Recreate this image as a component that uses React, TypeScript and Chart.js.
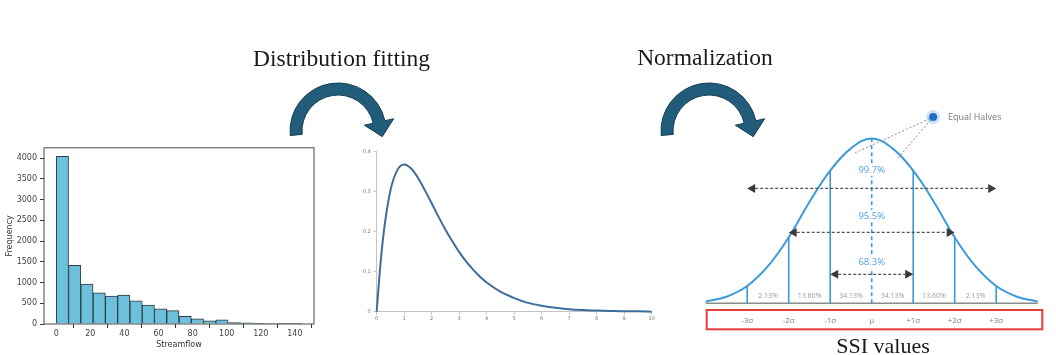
import React, { useEffect, useRef } from 'react';
import { Chart, registerables } from 'chart.js';

Chart.register(...registerables);

// ---------- Histogram (streamflow) ----------
const histBinCenters = [3.6, 10.8, 18, 25.2, 32.4, 39.6, 46.8, 54, 61.2, 68.4, 75.6, 82.8, 90, 97.2, 104.4, 111.6, 118.8, 126, 133.2, 140.4];
const histCounts = [4045, 1418, 962, 753, 673, 697, 561, 457, 365, 322, 188, 124, 76, 98, 34, 26, 16, 12, 6, 16];
const histXTicks = [0, 20, 40, 60, 80, 100, 120, 140];
const histYTicks = [0, 500, 1000, 1500, 2000, 2500, 3000, 3500, 4000];

// ---------- Fitted distribution ----------
const gammaX = [0, 0.1, 0.25, 0.5, 0.75, 1, 1.25, 1.5, 1.75, 2, 2.25, 2.5, 2.75, 3, 3.25, 3.5, 3.75, 4, 4.5, 5, 5.5, 6, 6.5, 7, 7.5, 8, 8.5, 9, 9.5, 10];
const gammaY = [0, 0.09, 0.195, 0.303, 0.354, 0.368, 0.358, 0.335, 0.304, 0.271, 0.237, 0.205, 0.176, 0.149, 0.126, 0.106, 0.088, 0.073, 0.05, 0.034, 0.022, 0.015, 0.01, 0.006, 0.004, 0.003, 0.002, 0.001, 0.001, 0];
const gammaXTicks = [0, 1, 2, 3, 4, 5, 6, 7, 8, 9, 10];
const gammaYTicks = [0, 0.1, 0.2, 0.3, 0.4];

// ---------- Normal curve ----------
const normX = [-4, -3.5, -3, -2.5, -2, -1.5, -1, -0.5, 0, 0.5, 1, 1.5, 2, 2.5, 3, 3.5, 4];
const normY = [0.01, 0.04, 0.105, 0.225, 0.4, 0.615, 0.805, 0.94, 1.0, 0.94, 0.805, 0.615, 0.4, 0.225, 0.105, 0.04, 0.01];
const sigmaPositions = [-3, -2, -1, 0, 1, 2, 3];
const sigmaLabels = ['-3σ', '-2σ', '-1σ', 'μ', '+1σ', '+2σ', '+3σ'];
const bandCenters = [-2.5, -1.5, -0.5, 0.5, 1.5, 2.5];
const bandLabels = ['2.13%', '13.60%', '34.13%', '34.13%', '13.60%', '2.13%'];
const coverageLabels = ['99.7%', '95.5%', '68.3%'];
const coverageSpans = [3, 2, 1];

const TITLE_FONT = '"Liberation Serif", "DejaVu Serif", serif';

function HistogramChart() {
  const ref = useRef<HTMLCanvasElement>(null);
  useEffect(() => {
    const framePlugin = {
      id: 'frame',
      afterDraw(chart: any) {
        const { ctx, chartArea: a } = chart;
        ctx.save();
        ctx.strokeStyle = '#333';
        ctx.lineWidth = 0.9;
        ctx.strokeRect(a.left, a.top, a.right - a.left, a.bottom - a.top);
        ctx.fillStyle = '#333';
        ctx.font = '8px "DejaVu Sans"';
        ctx.textAlign = 'center';
        ctx.textBaseline = 'middle';
        ctx.fillText('Streamflow', (a.left + a.right) / 2, a.bottom + 21);
        ctx.translate(10, (a.top + a.bottom) / 2);
        ctx.rotate(-Math.PI / 2);
        ctx.fillText('Frequency', 0, 0);
        ctx.restore();
      },
    };
    const chart = new Chart(ref.current!, {
      type: 'bar',
      data: {
        datasets: [
          {
            data: histBinCenters.map((x, i) => ({ x, y: histCounts[i] })),
            backgroundColor: '#6cc0dc',
            borderColor: '#2e3b40',
            borderWidth: 1,
            barPercentage: 1,
            categoryPercentage: 1,
          } as any,
        ],
      },
      options: {
        responsive: false,
        animation: false,
        events: [],
        layout: { padding: { left: 0, right: 16, top: 7, bottom: 0 } },
        plugins: { legend: { display: false }, tooltip: { enabled: false } },
        scales: {
          x: {
            type: 'linear',
            min: -7.2,
            max: 151.2,
            offset: false,
            afterBuildTicks: (s: any) => { s.ticks = histXTicks.map((v) => ({ value: v })); },
            afterFit: (s: any) => { s.height = 31; },
            ticks: { font: { family: 'DejaVu Sans', size: 8 }, color: '#444', padding: 1.5, maxRotation: 0, autoSkip: false, callback: (v: any) => String(v) },
            grid: { display: true, drawOnChartArea: false, tickLength: 4, color: '#333' },
            border: { display: false },
          },
          y: {
            min: 0,
            max: 4252,
            afterBuildTicks: (s: any) => { s.ticks = histYTicks.map((v) => ({ value: v })); },
            afterFit: (s: any) => { s.width = 44; },
            ticks: { font: { family: 'DejaVu Sans', size: 8 }, color: '#444', padding: 3, autoSkip: false, callback: (v: any) => String(v) },
            grid: { display: true, drawOnChartArea: false, tickLength: 4, color: '#333' },
            border: { display: false },
          },
        },
      } as any,
      plugins: [framePlugin],
    });
    return () => chart.destroy();
  }, []);
  return <canvas ref={ref} width={330} height={215} style={{ position: 'absolute', left: 0, top: 140, width: 330, height: 215 }} />;
}

function GammaChart() {
  const ref = useRef<HTMLCanvasElement>(null);
  useEffect(() => {
    const chart = new Chart(ref.current!, {
      type: 'line',
      data: {
        datasets: [
          {
            data: gammaX.map((x, i) => ({ x, y: gammaY[i] })),
            borderColor: '#3d6d9c',
            borderWidth: 2,
            pointRadius: 0,
            cubicInterpolationMode: 'monotone',
            clip: false,
          } as any,
        ],
      },
      options: {
        responsive: false,
        animation: false,
        events: [],
        layout: { padding: { left: 0, right: 18.3, top: 11.7, bottom: 0 } },
        plugins: { legend: { display: false }, tooltip: { enabled: false } },
        scales: {
          x: {
            type: 'linear',
            min: 0,
            max: 10,
            afterBuildTicks: (s: any) => { s.ticks = gammaXTicks.map((v) => ({ value: v })); },
            afterFit: (s: any) => { s.height = 18.3; },
            ticks: { font: { family: 'DejaVu Sans', size: 5 }, color: '#777', padding: 1, maxRotation: 0, autoSkip: false, callback: (v: any) => String(v) },
            grid: { display: true, drawOnChartArea: false, tickLength: 3, color: '#c4c4c4' },
            border: { display: true, color: '#c4c4c4', width: 1 },
          },
          y: {
            type: 'linear',
            min: 0,
            max: 0.4,
            afterBuildTicks: (s: any) => { s.ticks = gammaYTicks.map((v) => ({ value: v })); },
            afterFit: (s: any) => { s.width = 36.7; },
            ticks: { font: { family: 'DejaVu Sans', size: 5 }, color: '#777', padding: 3, autoSkip: false, callback: (v: any) => String(v) },
            grid: { display: true, drawOnChartArea: false, tickLength: 3, color: '#c4c4c4' },
            border: { display: true, color: '#c4c4c4', width: 1 },
          },
        },
      } as any,
    });
    return () => chart.destroy();
  }, []);
  return <canvas ref={ref} width={330} height={190} style={{ position: 'absolute', left: 340, top: 140, width: 330, height: 190 }} />;
}

function NormalChart() {
  const ref = useRef<HTMLCanvasElement>(null);
  useEffect(() => {
    const blue = '#3d9ad8';
    const labelBlue = '#4ea5de';
    const curveAt = (k: number) => normY[normX.indexOf(k)];

    const drawArrow = (ctx: any, x1: number, x2: number, y: number) => {
      const hl = 8, hh = 4.5;
      ctx.save();
      ctx.strokeStyle = '#555';
      ctx.lineWidth = 1.2;
      ctx.setLineDash([3, 2]);
      ctx.beginPath();
      ctx.moveTo(x1 + hl, y);
      ctx.lineTo(x2 - hl, y);
      ctx.stroke();
      ctx.setLineDash([]);
      ctx.fillStyle = '#3a3a3a';
      ctx.beginPath();
      ctx.moveTo(x1, y);
      ctx.lineTo(x1 + hl, y - hh);
      ctx.lineTo(x1 + hl, y + hh);
      ctx.closePath();
      ctx.fill();
      ctx.beginPath();
      ctx.moveTo(x2, y);
      ctx.lineTo(x2 - hl, y - hh);
      ctx.lineTo(x2 - hl, y + hh);
      ctx.closePath();
      ctx.fill();
      ctx.restore();
    };

    const plugin = {
      id: 'normalDecor',
      beforeDatasetsDraw(chart: any) {
        const { ctx } = chart;
        const xs = chart.scales.x, ys = chart.scales.y;
        const y0 = ys.getPixelForValue(0);
        ctx.save();
        ctx.strokeStyle = '#8c8c8c';
        ctx.lineWidth = 1.6;
        ctx.beginPath();
        ctx.moveTo(xs.getPixelForValue(-4), y0);
        ctx.lineTo(xs.getPixelForValue(4), y0);
        ctx.stroke();
        ctx.strokeStyle = blue;
        ctx.lineWidth = 1.6;
        sigmaPositions.forEach((k) => {
          if (k === 0) return;
          const x = xs.getPixelForValue(k);
          ctx.beginPath();
          ctx.moveTo(x, y0);
          ctx.lineTo(x, ys.getPixelForValue(curveAt(k)));
          ctx.stroke();
        });
        ctx.setLineDash([4, 3]);
        ctx.beginPath();
        const xm = xs.getPixelForValue(0);
        ctx.moveTo(xm, y0);
        ctx.lineTo(xm, ys.getPixelForValue(curveAt(0)));
        ctx.stroke();
        ctx.restore();
      },
      afterDatasetsDraw(chart: any) {
        const { ctx, chartArea: a } = chart;
        const xs = chart.scales.x, ys = chart.scales.y;
        const xm = xs.getPixelForValue(0);
        ctx.save();
        const labelLevels = [0.81, 0.53, 0.25];
        const arrowLevels = [0.697, 0.43, 0.176];
        ctx.font = '9.5px "Open Sans"';
        ctx.textAlign = 'center';
        ctx.textBaseline = 'middle';
        coverageLabels.forEach((t, i) => {
          const y = ys.getPixelForValue(labelLevels[i]);
          const w = ctx.measureText(t).width;
          ctx.fillStyle = '#fff';
          ctx.fillRect(xm - w / 2 - 1, y - 6, w + 2, 12);
          ctx.fillStyle = labelBlue;
          ctx.fillText(t, xm, y);
        });
        coverageSpans.forEach((s, i) => {
          drawArrow(ctx, xs.getPixelForValue(-s), xs.getPixelForValue(s), ys.getPixelForValue(arrowLevels[i]));
        });
        ctx.font = '7px "Open Sans"';
        ctx.fillStyle = '#9a9a9a';
        bandLabels.forEach((t, i) => {
          ctx.fillText(t, xs.getPixelForValue(bandCenters[i]), ys.getPixelForValue(0.046));
        });
        const boxTop = a.bottom + 6.7;
        ctx.strokeStyle = '#e63b3b';
        ctx.lineWidth = 2;
        ctx.strokeRect(a.left + 1, boxTop, a.right + 4.6 - (a.left + 1), 19.3);
        ctx.font = '8px "Open Sans"';
        ctx.fillStyle = '#808080';
        sigmaLabels.forEach((t, i) => {
          ctx.fillText(t, xs.getPixelForValue(sigmaPositions[i]), boxTop + 10.7);
        });
        const dx = xs.getPixelForValue(1.48), dy = ys.getPixelForValue(1.13);
        ctx.strokeStyle = '#8a8a8a';
        ctx.lineWidth = 1;
        ctx.setLineDash([2, 2]);
        ctx.beginPath();
        ctx.moveTo(dx, dy);
        ctx.lineTo(xs.getPixelForValue(-0.4), ys.getPixelForValue(0.913));
        ctx.moveTo(dx, dy);
        ctx.lineTo(xs.getPixelForValue(0.6), ys.getPixelForValue(0.873));
        ctx.stroke();
        ctx.setLineDash([]);
        ctx.fillStyle = 'rgba(110,170,235,0.35)';
        ctx.beginPath();
        ctx.arc(dx, dy, 7, 0, Math.PI * 2);
        ctx.fill();
        ctx.fillStyle = '#1c6fc4';
        ctx.beginPath();
        ctx.arc(dx, dy, 4, 0, Math.PI * 2);
        ctx.fill();
        ctx.font = '9px "Open Sans"';
        ctx.fillStyle = '#7a7a7a';
        ctx.textAlign = 'left';
        ctx.fillText('Equal Halves', xs.getPixelForValue(1.84), dy);
        ctx.restore();
      },
    };

    const chart = new Chart(ref.current!, {
      type: 'line',
      data: {
        datasets: [
          {
            data: normX.map((x, i) => ({ x, y: normY[i] })),
            borderColor: blue,
            borderWidth: 2,
            pointRadius: 0,
            tension: 0.4,
            clip: false,
          } as any,
        ],
      },
      options: {
        responsive: false,
        animation: false,
        events: [],
        layout: { padding: { left: 15.7, right: 18.3, top: 38.5, bottom: 51.7 } },
        plugins: { legend: { display: false }, tooltip: { enabled: false } },
        scales: {
          x: { type: 'linear', min: -4, max: 4, display: false },
          y: { type: 'linear', min: 0, max: 1, display: false },
        },
      } as any,
      plugins: [plugin],
    });
    return () => chart.destroy();
  }, []);
  return <canvas ref={ref} width={366} height={255} style={{ position: 'absolute', left: 690, top: 100, width: 366, height: 255 }} />;
}

function CurvedArrow({ dx }: { dx: number }) {
  const cx = 338 + dx, cy = 131, R = 48, r = 36, mid = 42, hw = 15, hl = 15;
  const a0 = (174.6 * Math.PI) / 180;
  const a1 = (347.6 * Math.PI) / 180;
  const pt = (rad: number, a: number) => [cx + rad * Math.cos(a), cy + rad * Math.sin(a)];
  const f = (p: number[]) => `${p[0].toFixed(2)} ${p[1].toFixed(2)}`;
  const o0 = pt(R, a0), o1 = pt(R, a1), i0 = pt(r, a0), i1 = pt(r, a1);
  const wOut = pt(mid + hw, a1), wIn = pt(mid - hw, a1);
  const m = pt(mid, a1);
  const tip = [m[0] - Math.sin(a1) * hl, m[1] + Math.cos(a1) * hl];
  const d = `M ${f(o0)} A ${R} ${R} 0 0 1 ${f(o1)} L ${f(wOut)} L ${f(tip)} L ${f(wIn)} L ${f(i1)} A ${r} ${r} 0 0 0 ${f(i0)} Z`;
  return <path d={d} fill="#215d7b" stroke="#143c50" strokeWidth={1} strokeLinejoin="miter" />;
}

function Title({ text, center, top, size }: { text: string; center: number; top: number; size: number }) {
  return (
    <div
      style={{
        position: 'absolute',
        left: center - 150,
        width: 300,
        top,
        textAlign: 'center',
        fontFamily: TITLE_FONT,
        fontSize: size,
        lineHeight: `${size}px`,
        color: '#1a1a1a',
        whiteSpace: 'nowrap',
      }}
    >
      {text}
    </div>
  );
}

export default function App() {
  return (
    <div style={{ position: 'absolute', left: 0, top: 0, width: 1056, height: 355, background: '#fff', overflow: 'hidden' }}>
      <HistogramChart />
      <GammaChart />
      <NormalChart />
      <svg width={1056} height={355} style={{ position: 'absolute', left: 0, top: 0, pointerEvents: 'none' }}>
        <CurvedArrow dx={0} />
        <CurvedArrow dx={371} />
      </svg>
      <Title text="Distribution fitting" center={341.5} top={46.8} size={23.5} />
      <Title text="Normalization" center={705} top={46.3} size={23.5} />
      <Title text="SSI values" center={883} top={334.6} size={22} />
    </div>
  );
}
